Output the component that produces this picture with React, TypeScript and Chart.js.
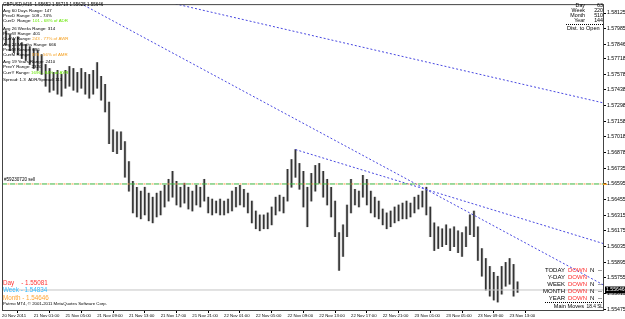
import React, { useEffect, useRef } from "react";
import { Chart, registerables } from "chart.js";
Chart.register(...registerables);

const FONT = '"Liberation Sans", Arial, sans-serif';

// time axis: hours since 20 Nov 2011 21:00, one label every 4 hours
const timeLabels = [
  "20 Nov 2011", "21 Nov 01:00", "21 Nov 05:00", "21 Nov 09:00", "21 Nov 13:00",
  "21 Nov 17:00", "21 Nov 21:00", "22 Nov 01:00", "22 Nov 05:00", "22 Nov 09:00",
  "22 Nov 13:00", "22 Nov 17:00", "22 Nov 21:00", "23 Nov 01:00", "23 Nov 05:00",
  "23 Nov 09:00", "23 Nov 13:00",
];
const timeTickHours = [0, 4, 8, 12, 16, 20, 24, 28, 32, 36, 40, 44, 48, 52, 56, 60, 64];

const priceLabels = [
  "1.58125", "1.57985", "1.57846", "1.57718", "1.57578", "1.57438", "1.57298",
  "1.57158", "1.57018", "1.56878", "1.56735", "1.56595", "1.56455", "1.56315",
  "1.56175", "1.56035", "1.55895", "1.55755", "1.55615", "1.55475",
];

const BAR_HOURS = 0.5;
const highs = [
  1.58019, 1.57966, 1.57930, 1.57895, 1.57913, 1.57860, 1.57842, 1.57824, 1.57806, 1.57789,
  1.57753, 1.57665, 1.57629, 1.57594, 1.57612, 1.57576, 1.57612, 1.57647, 1.57629, 1.57594,
  1.57629, 1.57594, 1.57576, 1.57612, 1.57682, 1.57558, 1.57487, 1.57328, 1.57080, 1.57062,
  1.57062, 1.56974, 1.56796, 1.56619, 1.56566, 1.56531, 1.56566, 1.56513, 1.56477, 1.56513,
  1.56531, 1.56584, 1.56637, 1.56708, 1.56619, 1.56566, 1.56602, 1.56566, 1.56531, 1.56584,
  1.56566, 1.56637, 1.56477, 1.56460, 1.56442, 1.56460, 1.56442, 1.56460, 1.56531, 1.56566,
  1.56584, 1.56548, 1.56513, 1.56442, 1.56353, 1.56318, 1.56318, 1.56336, 1.56389, 1.56477,
  1.56495, 1.56477, 1.56726, 1.56814, 1.56903, 1.56779, 1.56708, 1.56566, 1.56690, 1.56761,
  1.56779, 1.56708, 1.56637, 1.56566, 1.56442, 1.56159, 1.56229, 1.56407, 1.56637, 1.56548,
  1.56531, 1.56672, 1.56637, 1.56531, 1.56477, 1.56442, 1.56371, 1.56336, 1.56353, 1.56389,
  1.56407, 1.56424, 1.56442, 1.56424, 1.56477, 1.56495, 1.56531, 1.56566, 1.56389, 1.56247,
  1.56212, 1.56194, 1.56229, 1.56194, 1.56212, 1.56176, 1.56159, 1.56212, 1.56318, 1.56353,
  1.56212, 1.56017, 1.55928, 1.55857, 1.55804, 1.55769, 1.55857, 1.55893, 1.55928, 1.55875,
  1.55719,
];
const lows = [
  1.57877, 1.57842, 1.57789, 1.57771, 1.57753, 1.57718, 1.57700, 1.57665, 1.57629, 1.57612,
  1.57576, 1.57470, 1.57417, 1.57434, 1.57399, 1.57381, 1.57452, 1.57470, 1.57434, 1.57417,
  1.57452, 1.57399, 1.57363, 1.57399, 1.57452, 1.57346, 1.57239, 1.56956, 1.56885, 1.56867,
  1.56903, 1.56655, 1.56531, 1.56336, 1.56300, 1.56283, 1.56318, 1.56265, 1.56247, 1.56300,
  1.56318, 1.56389, 1.56442, 1.56477, 1.56407, 1.56389, 1.56424, 1.56371, 1.56353, 1.56407,
  1.56389, 1.56442, 1.56336, 1.56318, 1.56336, 1.56318, 1.56318, 1.56336, 1.56353, 1.56389,
  1.56407, 1.56389, 1.56336, 1.56247, 1.56194, 1.56176, 1.56194, 1.56194, 1.56229, 1.56318,
  1.56353, 1.56336, 1.56442, 1.56566, 1.56655, 1.56548, 1.56389, 1.56212, 1.56442, 1.56531,
  1.56602, 1.56477, 1.56407, 1.56300, 1.56123, 1.55822, 1.55946, 1.56123, 1.56336, 1.56407,
  1.56389, 1.56477, 1.56407, 1.56336, 1.56300, 1.56283, 1.56229, 1.56194, 1.56212, 1.56247,
  1.56265, 1.56283, 1.56283, 1.56300, 1.56336, 1.56371, 1.56389, 1.56318, 1.56123, 1.55999,
  1.56017, 1.56034, 1.56052, 1.55999, 1.56034, 1.55981, 1.55946, 1.56034, 1.56141, 1.56123,
  1.55910, 1.55769, 1.55645, 1.55591, 1.55556, 1.55538, 1.55609, 1.55680, 1.55698, 1.55591,
  1.55625,
];
const lastClose = 1.55646;
const orderLevel = 1.56595;

const trendA = [{ x: 15, y: 1.5832 }, { x: 80, y: 1.57252 }];
const trendB = [{ x: 9, y: 1.58246 }, { x: 80, y: 1.55532 }];
const trendC = [{ x: 37, y: 1.56903 }, { x: 80, y: 1.55971 }];

const X_MAX = 75.9;
const Y_MIN = 1.55458;
const Y_MAX = 1.58205;

const overlay = {
  id: "overlay",
  afterDraw(chart: any) {
    const ctx = chart.ctx as CanvasRenderingContext2D;
    const a = chart.chartArea;
    ctx.save();
    // frame
    ctx.strokeStyle = "#444";
    ctx.lineWidth = 1;
    ctx.strokeRect(a.left + 0.5, a.top + 0.5, a.right - a.left - 1, a.bottom - a.top - 1);

    ctx.textBaseline = "middle";
    const put = (s: string, x: number, y: number, size: number, color: string, align: CanvasTextAlign = "left") => {
      ctx.font = `${size}px ${FONT}`;
      ctx.fillStyle = color;
      ctx.textAlign = align;
      ctx.fillText(s, x, y);
      return ctx.measureText(s).width;
    };
    const two = (s1: string, s2: string, c2: string, x: number, y: number, size: number) => {
      const w = put(s1, x, y, size, "#000");
      put(s2, x + w, y, size, c2);
    };
    const GREEN = "#66e600";
    const ORANGE = "#f5a020";

    put("GBPUSD,M15  1.55652 1.55719 1.55625 1.55646", 3, 5, 4.5, "#000");
    put("Avg 60 Days Range: 147", 3, 11, 4.4, "#000");
    put("PrevD Range: 109 - 74%", 3, 16, 4.4, "#000");
    two("CurrD  Range: ", "101 - 68% of ADR", GREEN, 3, 21, 4.4);
    put("Avg 26 Weeks Range: 314", 3, 29, 4.4, "#000");
    put("PrevW Range: 401", 3, 33.5, 4.4, "#000");
    two("CurrW Range: ", "243 - 77% of AWR", ORANGE, 3, 38.5, 4.4);
    put("Avg 24 Months Range: 666", 3, 45, 4.4, "#000");
    put("PrevM Range: 696", 3, 50, 4.4, "#000");
    two("CurrM Range: ", "379 - 56% of AMR", ORANGE, 3, 55, 4.4);
    put("Avg 19 Years Range: 2410", 3, 62, 4.4, "#000");
    put("PrevY Range: 2320", 3, 67, 4.4, "#000");
    two("CurrY Range: ", "1696 - 84% of AYR", GREEN, 3, 72.5, 4.4);
    put("Spread: 1.3  ADR/Spread: 113", 3, 80, 4.4, "#000");

    put("#59230720 sell", 4, 179.5, 4.6, "#000");

    // top-right box
    const tr = [["Day", "63"], ["Week", "220"], ["Month", "510"], ["Year", "144"]];
    tr.forEach((r, i) => {
      const y = 6 + i * 4.7;
      put(r[0], 585, y, 5.3, "#000", "right");
      put(r[1], 603, y, 5.3, "#000", "right");
    });
    ctx.strokeStyle = "#000";
    ctx.setLineDash([1, 1]);
    ctx.beginPath();
    ctx.moveTo(566, 24.5);
    ctx.lineTo(603, 24.5);
    ctx.stroke();
    put("Dist. to Open", 567, 28.5, 5.6, "#000");

    // bottom-right box
    const br = [["TODAY", true], ["Y-DAY", false], ["WEEK", true], ["MONTH", true], ["YEAR", true]];
    br.forEach((r, i) => {
      const y = 270 + i * 7;
      put(r[0] as string, 565, y, 6, "#000", "right");
      put("DOWN", 568, y, 6, "#ff2a2a");
      if (r[1]) {
        put("N", 590, y, 6, "#000");
        put("--", 598, y, 6, "#000");
      }
    });
    ctx.beginPath();
    ctx.moveTo(545, 302.5);
    ctx.lineTo(603, 302.5);
    ctx.stroke();
    ctx.setLineDash([]);
    put("Main Moves", 584, 306.5, 5.6, "#000", "right");
    put("18.4 SL", 603, 306.5, 4.8, "#000", "right");

    // bottom-left
    put("Day    - 1.55081", 3, 283, 6.3, "#ff3535");
    put("Week - 1.54834", 3, 290.5, 6.3, "#33bbff");
    put("Month - 1.54646", 3, 298, 6.3, "#ffa535");
    put("Patrno MT4, \u00a9 2001-2011 MetaQuotes Software Corp.", 3, 304, 4.3, "#000");

    // price markers on axis
    const ys = chart.scales.y;
    const yo = ys.getPixelForValue(orderLevel);
    ctx.fillStyle = "#f5a020";
    ctx.fillRect(603, yo - 0.5, 4, 1.5);
    const yc = ys.getPixelForValue(lastClose);
    ctx.fillStyle = "#000";
    ctx.fillRect(605, yc - 3.5, 20, 7);
    put(lastClose.toFixed(5), 606, yc, 5.2, "#fff");
    ctx.restore();
  },
};

export default function App() {
  const ref = useRef<HTMLCanvasElement | null>(null);
  useEffect(() => {
    if (!ref.current) return;
    const barData = highs.map((h, i) => ({ x: i * BAR_HOURS, y: [lows[i], h] }));
    const flat = (v: number) => [{ x: 0, y: v }, { x: X_MAX, y: v }];
    const lineDs = (data: any[], color: string, dash: number[], offset = 0) => ({
      type: "line" as const,
      data,
      borderColor: color,
      borderWidth: 1,
      borderDash: dash,
      borderDashOffset: offset,
      pointRadius: 0,
      fill: false,
      order: 0,
    });
    const chart = new Chart(ref.current, {
      type: "bar",
      data: {
        datasets: [
          { data: barData as any, backgroundColor: "#d6d6d6", barThickness: 2.5, order: 3 } as any,
          { data: barData as any, backgroundColor: "#333333", barThickness: 1, order: 2 } as any,
          lineDs(flat(lastClose), "#c4c4c4", []),
          lineDs(flat(orderLevel), "#3cb43c", [5, 3]),
          lineDs(flat(orderLevel), "#f59a40", [2, 6], 2.5),
          lineDs(trendA, "#4848e0", [2, 2]),
          lineDs(trendB, "#4848e0", [2, 2]),
          lineDs(trendC, "#4848e0", [2, 2]),
        ],
      },
      options: {
        animation: false,
        responsive: false,
        devicePixelRatio: 1,
        layout: { padding: { left: 2, top: 1, right: 0, bottom: 0 } },
        datasets: { bar: { grouped: false } as any },
        plugins: { legend: { display: false }, tooltip: { enabled: false } },
        events: [],
        scales: {
          x: {
            type: "linear",
            min: 0,
            max: X_MAX,
            offset: false,
            border: { display: false },
            grid: { drawOnChartArea: false, drawTicks: true, tickLength: 2, color: "#000" },
            afterBuildTicks: (s: any) => {
              s.ticks = timeTickHours.map((v) => ({ value: v }));
            },
            afterFit: (s: any) => {
              s.height = 8;
            },
            ticks: {
              autoSkip: false,
              maxRotation: 0,
              minRotation: 0,
              align: "start",
              padding: 0,
              color: "#000",
              font: { family: FONT, size: 4.3 },
              callback: (_v: any, i: number) => timeLabels[i],
            },
          },
          y: {
            type: "linear",
            position: "right",
            min: Y_MIN,
            max: Y_MAX,
            border: { display: false },
            grid: { drawOnChartArea: false, drawTicks: true, tickLength: 2, color: "#000" },
            afterBuildTicks: (s: any) => {
              s.ticks = priceLabels.map((v) => ({ value: parseFloat(v) }));
            },
            afterFit: (s: any) => {
              s.width = 21;
            },
            ticks: {
              autoSkip: false,
              padding: 1,
              color: "#000",
              font: { family: FONT, size: 5.2 },
              callback: (_v: any, i: number) => priceLabels[i],
            },
          },
        },
      },
      plugins: [overlay],
    });
    return () => chart.destroy();
  }, []);
  return (
    <div style={{ position: "absolute", left: 0, top: 0, width: 625, height: 319, background: "#fff" }}>
      <canvas ref={ref} width={625} height={319} style={{ display: "block", width: 625, height: 319 }} />
    </div>
  );
}
